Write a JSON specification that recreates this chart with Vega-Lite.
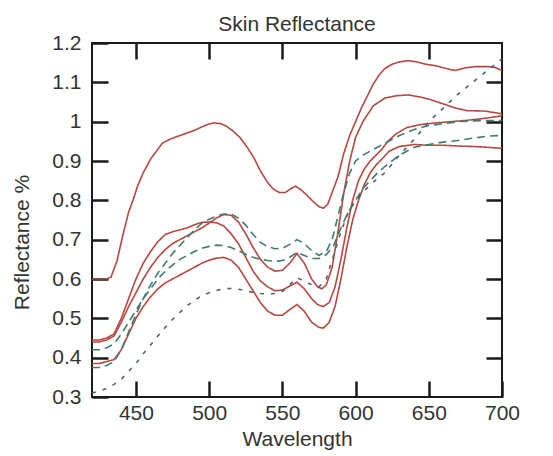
{
  "$schema": "https://vega.github.io/schema/vega-lite/v6.json",
  "width": 410,
  "height": 354,
  "autosize": {"type": "none"},
  "padding": {"left": 92, "top": 43, "right": 51, "bottom": 59},
  "background": "white",
  "title": {"text": "Skin Reflectance", "fontSize": 21, "font": "Liberation Sans", "fontWeight": "normal", "color": "#333333", "anchor": "middle", "offset": -3},
  "config": {
    "font": "Liberation Sans",
    "view": {"stroke": "#1a1a1a", "strokeWidth": 2},
    "axis": {"grid": false, "domain": false, "tickColor": "#1a1a1a", "tickWidth": 2.5, "tickSize": -16, "labelFontSize": 21, "labelColor": "#333333", "titleFontSize": 21, "titleFontWeight": "normal", "titleColor": "#333333", "labelFlush": false, "labelOverlap": false}
  },
  "data": {"values": [
    {"s":"R1","w":420,"r":0.6},{"s":"R1","w":425,"r":0.6},{"s":"R1","w":430,"r":0.6},{"s":"R1","w":433,"r":0.605},{"s":"R1","w":437,"r":0.645},{"s":"R1","w":441,"r":0.71},{"s":"R1","w":445,"r":0.77},{"s":"R1","w":448,"r":0.8},{"s":"R1","w":451,"r":0.835},{"s":"R1","w":455,"r":0.87},{"s":"R1","w":460,"r":0.905},{"s":"R1","w":464,"r":0.925},{"s":"R1","w":468,"r":0.945},{"s":"R1","w":473,"r":0.955},{"s":"R1","w":478,"r":0.962},{"s":"R1","w":484,"r":0.97},{"s":"R1","w":490,"r":0.978},{"s":"R1","w":494,"r":0.985},{"s":"R1","w":499,"r":0.993},{"s":"R1","w":503,"r":0.997},{"s":"R1","w":508,"r":0.995},{"s":"R1","w":512,"r":0.988},{"s":"R1","w":516,"r":0.977},{"s":"R1","w":521,"r":0.96},{"s":"R1","w":526,"r":0.935},{"s":"R1","w":531,"r":0.905},{"s":"R1","w":535,"r":0.875},{"s":"R1","w":540,"r":0.845},{"s":"R1","w":544,"r":0.828},{"s":"R1","w":548,"r":0.82},{"s":"R1","w":552,"r":0.82},{"s":"R1","w":556,"r":0.83},{"s":"R1","w":559,"r":0.836},{"s":"R1","w":563,"r":0.826},{"s":"R1","w":567,"r":0.812},{"s":"R1","w":571,"r":0.797},{"s":"R1","w":575,"r":0.784},{"s":"R1","w":578,"r":0.78},{"s":"R1","w":581,"r":0.79},{"s":"R1","w":584,"r":0.82},{"s":"R1","w":588,"r":0.86},{"s":"R1","w":592,"r":0.92},{"s":"R1","w":596,"r":0.965},{"s":"R1","w":600,"r":1.0},{"s":"R1","w":604,"r":1.035},{"s":"R1","w":608,"r":1.065},{"s":"R1","w":612,"r":1.095},{"s":"R1","w":616,"r":1.118},{"s":"R1","w":620,"r":1.135},{"s":"R1","w":625,"r":1.146},{"s":"R1","w":630,"r":1.152},{"s":"R1","w":636,"r":1.155},{"s":"R1","w":642,"r":1.152},{"s":"R1","w":648,"r":1.146},{"s":"R1","w":655,"r":1.142},{"s":"R1","w":662,"r":1.135},{"s":"R1","w":668,"r":1.13},{"s":"R1","w":675,"r":1.137},{"s":"R1","w":682,"r":1.14},{"s":"R1","w":690,"r":1.14},{"s":"R1","w":695,"r":1.138},{"s":"R1","w":700,"r":1.13},
    {"s":"R2","w":420,"r":0.44},{"s":"R2","w":425,"r":0.44},{"s":"R2","w":430,"r":0.445},{"s":"R2","w":435,"r":0.455},{"s":"R2","w":440,"r":0.49},{"s":"R2","w":445,"r":0.53},{"s":"R2","w":450,"r":0.565},{"s":"R2","w":455,"r":0.6},{"s":"R2","w":460,"r":0.63},{"s":"R2","w":465,"r":0.655},{"s":"R2","w":470,"r":0.675},{"s":"R2","w":475,"r":0.69},{"s":"R2","w":480,"r":0.7},{"s":"R2","w":485,"r":0.71},{"s":"R2","w":490,"r":0.72},{"s":"R2","w":495,"r":0.73},{"s":"R2","w":500,"r":0.742},{"s":"R2","w":505,"r":0.755},{"s":"R2","w":510,"r":0.764},{"s":"R2","w":515,"r":0.762},{"s":"R2","w":520,"r":0.745},{"s":"R2","w":525,"r":0.715},{"s":"R2","w":530,"r":0.68},{"s":"R2","w":535,"r":0.65},{"s":"R2","w":540,"r":0.63},{"s":"R2","w":545,"r":0.62},{"s":"R2","w":550,"r":0.622},{"s":"R2","w":555,"r":0.64},{"s":"R2","w":560,"r":0.665},{"s":"R2","w":565,"r":0.64},{"s":"R2","w":570,"r":0.6},{"s":"R2","w":574,"r":0.58},{"s":"R2","w":577,"r":0.575},{"s":"R2","w":580,"r":0.585},{"s":"R2","w":584,"r":0.63},{"s":"R2","w":588,"r":0.72},{"s":"R2","w":592,"r":0.82},{"s":"R2","w":596,"r":0.9},{"s":"R2","w":600,"r":0.96},{"s":"R2","w":605,"r":1.0},{"s":"R2","w":612,"r":1.04},{"s":"R2","w":620,"r":1.06},{"s":"R2","w":628,"r":1.066},{"s":"R2","w":636,"r":1.068},{"s":"R2","w":645,"r":1.062},{"s":"R2","w":652,"r":1.055},{"s":"R2","w":660,"r":1.045},{"s":"R2","w":668,"r":1.035},{"s":"R2","w":676,"r":1.028},{"s":"R2","w":688,"r":1.027},{"s":"R2","w":700,"r":1.02},
    {"s":"R3","w":420,"r":0.445},{"s":"R3","w":425,"r":0.445},{"s":"R3","w":430,"r":0.45},{"s":"R3","w":435,"r":0.46},{"s":"R3","w":440,"r":0.5},{"s":"R3","w":445,"r":0.55},{"s":"R3","w":450,"r":0.6},{"s":"R3","w":455,"r":0.64},{"s":"R3","w":460,"r":0.67},{"s":"R3","w":465,"r":0.695},{"s":"R3","w":470,"r":0.713},{"s":"R3","w":475,"r":0.72},{"s":"R3","w":480,"r":0.725},{"s":"R3","w":485,"r":0.73},{"s":"R3","w":490,"r":0.738},{"s":"R3","w":495,"r":0.744},{"s":"R3","w":500,"r":0.745},{"s":"R3","w":505,"r":0.743},{"s":"R3","w":510,"r":0.735},{"s":"R3","w":515,"r":0.715},{"s":"R3","w":520,"r":0.69},{"s":"R3","w":525,"r":0.655},{"s":"R3","w":530,"r":0.62},{"s":"R3","w":535,"r":0.595},{"s":"R3","w":540,"r":0.58},{"s":"R3","w":545,"r":0.57},{"s":"R3","w":550,"r":0.572},{"s":"R3","w":555,"r":0.582},{"s":"R3","w":560,"r":0.592},{"s":"R3","w":565,"r":0.575},{"s":"R3","w":570,"r":0.55},{"s":"R3","w":574,"r":0.535},{"s":"R3","w":578,"r":0.53},{"s":"R3","w":582,"r":0.54},{"s":"R3","w":586,"r":0.58},{"s":"R3","w":590,"r":0.65},{"s":"R3","w":594,"r":0.73},{"s":"R3","w":598,"r":0.8},{"s":"R3","w":602,"r":0.85},{"s":"R3","w":606,"r":0.88},{"s":"R3","w":610,"r":0.9},{"s":"R3","w":614,"r":0.915},{"s":"R3","w":618,"r":0.93},{"s":"R3","w":622,"r":0.95},{"s":"R3","w":628,"r":0.97},{"s":"R3","w":635,"r":0.985},{"s":"R3","w":645,"r":0.993},{"s":"R3","w":655,"r":0.997},{"s":"R3","w":665,"r":1.0},{"s":"R3","w":675,"r":1.003},{"s":"R3","w":685,"r":1.007},{"s":"R3","w":695,"r":1.012},{"s":"R3","w":700,"r":1.015},
    {"s":"R4","w":420,"r":0.385},{"s":"R4","w":425,"r":0.385},{"s":"R4","w":430,"r":0.39},{"s":"R4","w":435,"r":0.395},{"s":"R4","w":440,"r":0.42},{"s":"R4","w":445,"r":0.46},{"s":"R4","w":450,"r":0.5},{"s":"R4","w":455,"r":0.53},{"s":"R4","w":460,"r":0.555},{"s":"R4","w":465,"r":0.575},{"s":"R4","w":470,"r":0.59},{"s":"R4","w":475,"r":0.6},{"s":"R4","w":480,"r":0.61},{"s":"R4","w":485,"r":0.62},{"s":"R4","w":490,"r":0.63},{"s":"R4","w":495,"r":0.64},{"s":"R4","w":500,"r":0.648},{"s":"R4","w":505,"r":0.653},{"s":"R4","w":510,"r":0.655},{"s":"R4","w":515,"r":0.648},{"s":"R4","w":520,"r":0.63},{"s":"R4","w":525,"r":0.6},{"s":"R4","w":530,"r":0.57},{"s":"R4","w":535,"r":0.54},{"s":"R4","w":540,"r":0.518},{"s":"R4","w":545,"r":0.508},{"s":"R4","w":550,"r":0.508},{"s":"R4","w":555,"r":0.522},{"s":"R4","w":560,"r":0.535},{"s":"R4","w":565,"r":0.518},{"s":"R4","w":570,"r":0.49},{"s":"R4","w":575,"r":0.477},{"s":"R4","w":578,"r":0.475},{"s":"R4","w":582,"r":0.49},{"s":"R4","w":586,"r":0.53},{"s":"R4","w":590,"r":0.6},{"s":"R4","w":594,"r":0.68},{"s":"R4","w":598,"r":0.75},{"s":"R4","w":602,"r":0.8},{"s":"R4","w":606,"r":0.84},{"s":"R4","w":610,"r":0.87},{"s":"R4","w":614,"r":0.89},{"s":"R4","w":618,"r":0.905},{"s":"R4","w":623,"r":0.925},{"s":"R4","w":630,"r":0.937},{"s":"R4","w":640,"r":0.942},{"s":"R4","w":650,"r":0.94},{"s":"R4","w":660,"r":0.94},{"s":"R4","w":670,"r":0.938},{"s":"R4","w":680,"r":0.937},{"s":"R4","w":690,"r":0.935},{"s":"R4","w":700,"r":0.932},
    {"s":"G1","w":420,"r":0.375},{"s":"G1","w":425,"r":0.375},{"s":"G1","w":430,"r":0.38},{"s":"G1","w":435,"r":0.39},{"s":"G1","w":440,"r":0.42},{"s":"G1","w":445,"r":0.465},{"s":"G1","w":450,"r":0.51},{"s":"G1","w":455,"r":0.55},{"s":"G1","w":460,"r":0.585},{"s":"G1","w":465,"r":0.615},{"s":"G1","w":470,"r":0.64},{"s":"G1","w":475,"r":0.665},{"s":"G1","w":480,"r":0.685},{"s":"G1","w":485,"r":0.705},{"s":"G1","w":490,"r":0.725},{"s":"G1","w":495,"r":0.742},{"s":"G1","w":500,"r":0.752},{"s":"G1","w":505,"r":0.76},{"s":"G1","w":510,"r":0.765},{"s":"G1","w":515,"r":0.765},{"s":"G1","w":520,"r":0.755},{"s":"G1","w":525,"r":0.737},{"s":"G1","w":530,"r":0.713},{"s":"G1","w":535,"r":0.693},{"s":"G1","w":540,"r":0.682},{"s":"G1","w":545,"r":0.677},{"s":"G1","w":550,"r":0.678},{"s":"G1","w":555,"r":0.688},{"s":"G1","w":560,"r":0.7},{"s":"G1","w":565,"r":0.69},{"s":"G1","w":570,"r":0.672},{"s":"G1","w":575,"r":0.66},{"s":"G1","w":580,"r":0.67},{"s":"G1","w":584,"r":0.7},{"s":"G1","w":588,"r":0.76},{"s":"G1","w":592,"r":0.82},{"s":"G1","w":596,"r":0.87},{"s":"G1","w":600,"r":0.9},{"s":"G1","w":605,"r":0.915},{"s":"G1","w":610,"r":0.925},{"s":"G1","w":620,"r":0.945},{"s":"G1","w":630,"r":0.965},{"s":"G1","w":640,"r":0.98},{"s":"G1","w":650,"r":0.99},{"s":"G1","w":660,"r":0.995},{"s":"G1","w":670,"r":1.0},{"s":"G1","w":680,"r":1.002},{"s":"G1","w":690,"r":1.003},{"s":"G1","w":700,"r":1.003},
    {"s":"G2","w":420,"r":0.42},{"s":"G2","w":425,"r":0.42},{"s":"G2","w":430,"r":0.425},{"s":"G2","w":435,"r":0.435},{"s":"G2","w":440,"r":0.46},{"s":"G2","w":445,"r":0.49},{"s":"G2","w":450,"r":0.52},{"s":"G2","w":455,"r":0.55},{"s":"G2","w":460,"r":0.575},{"s":"G2","w":465,"r":0.6},{"s":"G2","w":470,"r":0.62},{"s":"G2","w":475,"r":0.635},{"s":"G2","w":480,"r":0.65},{"s":"G2","w":485,"r":0.66},{"s":"G2","w":490,"r":0.67},{"s":"G2","w":495,"r":0.678},{"s":"G2","w":500,"r":0.683},{"s":"G2","w":505,"r":0.686},{"s":"G2","w":510,"r":0.685},{"s":"G2","w":515,"r":0.68},{"s":"G2","w":520,"r":0.672},{"s":"G2","w":525,"r":0.663},{"s":"G2","w":530,"r":0.655},{"s":"G2","w":535,"r":0.65},{"s":"G2","w":540,"r":0.647},{"s":"G2","w":545,"r":0.645},{"s":"G2","w":550,"r":0.647},{"s":"G2","w":555,"r":0.655},{"s":"G2","w":560,"r":0.668},{"s":"G2","w":565,"r":0.66},{"s":"G2","w":570,"r":0.652},{"s":"G2","w":575,"r":0.652},{"s":"G2","w":580,"r":0.662},{"s":"G2","w":585,"r":0.685},{"s":"G2","w":590,"r":0.73},{"s":"G2","w":595,"r":0.77},{"s":"G2","w":600,"r":0.8},{"s":"G2","w":605,"r":0.83},{"s":"G2","w":610,"r":0.85},{"s":"G2","w":615,"r":0.87},{"s":"G2","w":620,"r":0.886},{"s":"G2","w":630,"r":0.915},{"s":"G2","w":640,"r":0.935},{"s":"G2","w":650,"r":0.942},{"s":"G2","w":660,"r":0.948},{"s":"G2","w":670,"r":0.952},{"s":"G2","w":680,"r":0.958},{"s":"G2","w":690,"r":0.963},{"s":"G2","w":700,"r":0.965},
    {"s":"B","w":420,"r":0.31},{"s":"B","w":425,"r":0.315},{"s":"B","w":430,"r":0.322},{"s":"B","w":435,"r":0.332},{"s":"B","w":440,"r":0.345},{"s":"B","w":445,"r":0.365},{"s":"B","w":450,"r":0.385},{"s":"B","w":455,"r":0.41},{"s":"B","w":460,"r":0.432},{"s":"B","w":465,"r":0.455},{"s":"B","w":470,"r":0.477},{"s":"B","w":475,"r":0.497},{"s":"B","w":480,"r":0.515},{"s":"B","w":485,"r":0.532},{"s":"B","w":490,"r":0.546},{"s":"B","w":495,"r":0.557},{"s":"B","w":500,"r":0.565},{"s":"B","w":505,"r":0.571},{"s":"B","w":510,"r":0.575},{"s":"B","w":515,"r":0.576},{"s":"B","w":520,"r":0.574},{"s":"B","w":525,"r":0.57},{"s":"B","w":530,"r":0.566},{"s":"B","w":535,"r":0.563},{"s":"B","w":540,"r":0.562},{"s":"B","w":545,"r":0.563},{"s":"B","w":550,"r":0.568},{"s":"B","w":555,"r":0.585},{"s":"B","w":560,"r":0.603},{"s":"B","w":565,"r":0.595},{"s":"B","w":570,"r":0.585},{"s":"B","w":575,"r":0.58},{"s":"B","w":580,"r":0.6},{"s":"B","w":585,"r":0.66},{"s":"B","w":590,"r":0.72},{"s":"B","w":595,"r":0.77},{"s":"B","w":600,"r":0.8},{"s":"B","w":605,"r":0.82},{"s":"B","w":610,"r":0.84},{"s":"B","w":620,"r":0.87},{"s":"B","w":630,"r":0.915},{"s":"B","w":640,"r":0.955},{"s":"B","w":650,"r":1.0},{"s":"B","w":660,"r":1.035},{"s":"B","w":670,"r":1.07},{"s":"B","w":680,"r":1.1},{"s":"B","w":690,"r":1.13},{"s":"B","w":700,"r":1.16}
  ]},
  "layer": [
    {
      "mark": {"type": "line", "strokeWidth": 1.6, "clip": true},
      "encoding": {
        "x": {"field": "w", "type": "quantitative", "scale": {"domain": [420, 700], "nice": false, "zero": false},
              "axis": {"orient": "bottom", "values": [450, 500, 550, 600, 650, 700], "title": "Wavelength", "labelPadding": 21, "titleY": 31, "titleBaseline": "top"}},
        "y": {"field": "r", "type": "quantitative", "scale": {"domain": [0.3, 1.2], "nice": false, "zero": false},
              "axis": {"orient": "left", "values": [0.3, 0.4, 0.5, 0.6, 0.7, 0.8, 0.9, 1.0, 1.1, 1.2], "format": "~g", "title": "Reflectance %", "labelPadding": 27, "titleX": -60, "titleY": 199}},
        "color": {"field": "s", "type": "nominal", "legend": null,
                  "scale": {"domain": ["R1", "R2", "R3", "R4", "G1", "G2", "B"], "range": ["#b8473f", "#b8473f", "#b8473f", "#b8473f", "#3f7c6d", "#3f7c6d", "#4d6170"]}},
        "strokeDash": {"field": "s", "type": "nominal", "legend": null,
                  "scale": {"domain": ["R1", "R2", "R3", "R4", "G1", "G2", "B"], "range": [[1, 0], [1, 0], [1, 0], [1, 0], [8, 5], [8, 5], [4, 7]]}},
        "order": {"field": "w", "type": "quantitative"}
      }
    },
    {
      "mark": {"type": "line", "opacity": 0},
      "encoding": {
        "x": {"field": "w", "type": "quantitative", "axis": {"orient": "top", "values": [450, 500, 550, 600, 650], "labels": false, "title": null}},
        "y": {"field": "r", "type": "quantitative", "axis": {"orient": "right", "values": [0.4, 0.5, 0.6, 0.7, 0.8, 0.9, 1.0, 1.1], "labels": false, "title": null}},
        "detail": {"field": "s", "type": "nominal"}
      }
    }
  ],
  "resolve": {"axis": {"x": "independent", "y": "independent"}}
}
